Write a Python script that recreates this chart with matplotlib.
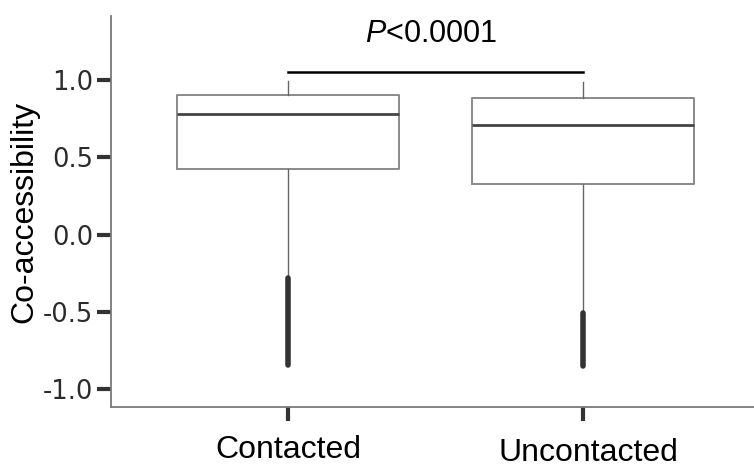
from __future__ import annotations

import matplotlib

matplotlib.use("Agg")
import matplotlib.pyplot as plt
import matplotlib.transforms as mtransforms

# Box statistics
groups = ["Contacted", "Uncontacted"]
q1_values = [0.424, 0.327]
median_values = [0.780, 0.709]
q3_values = [0.903, 0.883]
whisker_high = [0.994, 0.987]
whisker_low = [-0.280, -0.510]
# dense outlier run below the lower whisker
outlier_top = [-0.280, -0.510]
outlier_bottom = [-0.845, -0.850]

y_ticks = [-1.0, -0.5, 0.0, 0.5, 1.0]
p_label = r"$\mathit{P}$<0.0001"
bracket_y = 1.052

plt.rcParams["mathtext.fontset"] = "custom"
plt.rcParams["mathtext.it"] = "Liberation Sans:italic"
plt.rcParams["mathtext.rm"] = "Liberation Sans"

LABEL_FONT = "Liberation Sans"
BOX_GRAY = "#8a8a8a"
DARK = "#333333"


def plot_coaccessibility_boxes(output_path: str) -> None:
    """
    Draw the co-accessibility box plot with a significance bracket.

    Parameters
    ----------
    output_path:
        Path where the figure is saved.
    """
    fig = plt.figure(figsize=(7.54, 4.68), dpi=100)
    ax = fig.add_axes([0.1472, 0.1303, 0.8528, 0.8355])

    positions = list(range(len(groups)))
    stats = []
    for i, name in enumerate(groups):
        stats.append(
            {
                "label": name,
                "q1": q1_values[i],
                "med": median_values[i],
                "q3": q3_values[i],
                "whislo": whisker_low[i],
                "whishi": whisker_high[i],
                "fliers": [],
            }
        )

    ax.bxp(
        stats,
        positions=positions,
        widths=0.75,
        showcaps=False,
        showfliers=False,
        boxprops={"color": BOX_GRAY, "linewidth": 1.4},
        whiskerprops={"color": "#666666", "linewidth": 1.0},
        medianprops={"color": "#444444", "linewidth": 2.0},
    )

    ax.vlines(
        positions,
        outlier_bottom,
        outlier_top,
        color=DARK,
        linewidth=4.0,
        capstyle="round",
        zorder=3,
    )

    # significance bracket
    ax.plot(positions, [bracket_y, bracket_y], color="black", linewidth=1.8)
    ax.text(
        0.485,
        1.245,
        p_label,
        ha="center",
        va="baseline",
        fontsize=22,
        family=LABEL_FONT,
        color="black",
    )

    ax.set_xlim(-0.6, 1.58)
    ax.set_ylim(-1.116, 1.414)
    ax.set_yticks(y_ticks)
    ax.set_yticklabels([f"{v:.1f}" for v in y_ticks], fontsize=18.5, color="#2b2b2b")
    ax.set_xticks(positions)
    ax.set_xticklabels(groups, fontsize=23, family=LABEL_FONT, color="black")

    ax.tick_params(axis="both", length=10, width=3, color=DARK)
    ax.tick_params(axis="x", pad=10)
    ax.tick_params(axis="y", pad=3)

    # second category label sits a little lower and to the right in the original
    shift = mtransforms.ScaledTranslation(6 / 100, -3 / 100, fig.dpi_scale_trans)
    second = ax.get_xticklabels()[1]
    second.set_transform(second.get_transform() + shift)

    ax.set_ylabel("Co-accessibility", fontsize=23, family=LABEL_FONT, labelpad=2)

    for side in ("top", "right"):
        ax.spines[side].set_visible(False)
    for side in ("left", "bottom"):
        ax.spines[side].set_color("#7a7a7a")
        ax.spines[side].set_linewidth(1.3)

    fig.savefig(output_path, dpi=100)
    plt.close(fig)


if __name__ == "__main__":
    plot_coaccessibility_boxes("out.png")
